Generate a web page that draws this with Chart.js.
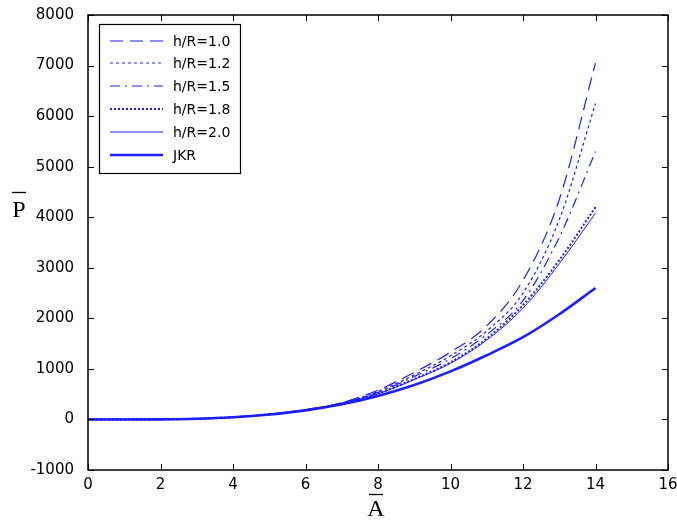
<!DOCTYPE html>
<html>
<head>
<meta charset="utf-8">
<script src="https://cdn.jsdelivr.net/npm/chart.js@4"></script>
<style>
  html, body { margin: 0; padding: 0; background: #fff; }
  #wrap { width: 677px; height: 525px; }
</style>
</head>
<body>
<div id="wrap"><canvas id="PlotCanvas" width="677" height="525"></canvas></div>
<script>
// values
var A = [0, 1, 2, 3, 4, 5, 6, 7, 8, 9, 10, 11, 12, 13, 14];
var hR10 = [0, 0, 2, 14, 46, 103, 192, 330, 580, 930, 1330, 1850, 2750, 4350, 7050];
var hR12 = [0, 0, 2, 14, 45, 102, 190, 326, 555, 880, 1260, 1750, 2500, 3950, 6250];
var hR15 = [0, 0, 2, 14, 45, 101, 188, 322, 535, 850, 1200, 1680, 2350, 3600, 5300];
var hR18 = [0, 0, 2, 14, 45, 100, 186, 318, 515, 800, 1130, 1600, 2260, 3150, 4200];
var hR20 = [0, 0, 2, 14, 45, 100, 185, 315, 505, 790, 1110, 1570, 2200, 3080, 4080];
var JKR = [0, 0, 2, 14, 44, 98, 180, 300, 465, 680, 950, 1270, 1626, 2080, 2600];
var SeriesNames = ['h/R=1.0', 'h/R=1.2', 'h/R=1.5', 'h/R=1.8', 'h/R=2.0', 'JKR'];
var xTicks = [0, 2, 4, 6, 8, 10, 12, 14, 16];
var yTicks = [-1000, 0, 1000, 2000, 3000, 4000, 5000, 6000, 7000, 8000];

var LineBlue = 'rgb(30, 30, 255)';
var TickFont = { family: '"DejaVu Sans", Arial, sans-serif', size: 15 };

function toPoints(arr) {
    return A.map(function (a, i) { return { x: a, y: arr[i] }; });
}

function MakeSet(name, arr, width, dash) {
    return {
        label: name,
        data: toPoints(arr),
        borderColor: LineBlue,
        borderWidth: width,
        borderDash: dash,
        pointRadius: 0,
        fill: false,
        cubicInterpolationMode: 'monotone'
    };
}

// frame, inward ticks, legend box and axis letters like the MATLAB figure
var FramePlugin = {
    id: 'framePlugin',
    afterDatasetsDraw: function (chart) {
        var ctx = chart.ctx;
        var ca = chart.chartArea;
        var xs = chart.scales.x, ys = chart.scales.y;
        ctx.save();
        ctx.strokeStyle = '#000';
        ctx.lineWidth = 1.5;
        ctx.setLineDash([]);
        ctx.strokeRect(ca.left, ca.top, ca.right - ca.left, ca.bottom - ca.top);
        ctx.lineWidth = 1;
        xTicks.forEach(function (t) {
            var px = Math.round(xs.getPixelForValue(t)) + 0.5;
            ctx.beginPath();
            ctx.moveTo(px, ca.bottom); ctx.lineTo(px, ca.bottom - 6);
            ctx.moveTo(px, ca.top); ctx.lineTo(px, ca.top + 6);
            ctx.stroke();
        });
        yTicks.forEach(function (t) {
            var py = Math.round(ys.getPixelForValue(t)) + 0.5;
            ctx.beginPath();
            ctx.moveTo(ca.left, py); ctx.lineTo(ca.left + 6, py);
            ctx.moveTo(ca.right, py); ctx.lineTo(ca.right - 6, py);
            ctx.stroke();
        });

        // legend
        var bx = 99, by = 24, bw = 141, bh = 149;
        ctx.fillStyle = '#fff';
        ctx.fillRect(bx, by, bw, bh);
        ctx.lineWidth = 1.2;
        ctx.strokeStyle = '#000';
        ctx.strokeRect(bx + 0.5, by + 0.5, bw, bh);
        var rowY = [41, 63, 86, 109, 132, 155];
        chart.data.datasets.forEach(function (ds, i) {
            ctx.beginPath();
            ctx.strokeStyle = ds.borderColor;
            ctx.lineWidth = ds.borderWidth;
            ctx.setLineDash(ds.borderDash || []);
            ctx.moveTo(110, rowY[i]);
            ctx.lineTo(163, rowY[i]);
            ctx.stroke();
            ctx.setLineDash([]);
            ctx.fillStyle = '#000';
            ctx.font = '14px "DejaVu Sans", Arial, sans-serif';
            ctx.textBaseline = 'middle';
            ctx.textAlign = 'left';
            ctx.fillText(ds.label, 173, rowY[i] + 1);
        });

        // axis letters with bars on top
        ctx.fillStyle = '#000';
        ctx.strokeStyle = '#000';
        ctx.lineWidth = 1.3;
        ctx.font = '24px "Liberation Serif", "Times New Roman", serif';
        ctx.textAlign = 'center';
        ctx.textBaseline = 'alphabetic';
        ctx.fillText('P', 19, 217);
        ctx.beginPath(); ctx.moveTo(12, 192.5); ctx.lineTo(26, 192.5); ctx.stroke();
        ctx.fillText('A', 376, 516);
        ctx.beginPath(); ctx.moveTo(369, 494.5); ctx.lineTo(383, 494.5); ctx.stroke();
        ctx.restore();
    }
};

var ctx = document.getElementById('PlotCanvas').getContext('2d');
window.MyPlot = new Chart(ctx, {
    type: 'line',
    data: {
        datasets: [
            MakeSet(SeriesNames[0], hR10, 1.2, [13, 7]),
            MakeSet(SeriesNames[1], hR12, 1.2, [3, 3]),
            MakeSet(SeriesNames[2], hR15, 1.2, [10, 5, 2, 5]),
            MakeSet(SeriesNames[3], hR18, 2, [2, 2]),
            MakeSet(SeriesNames[4], hR20, 1, []),
            MakeSet(SeriesNames[5], JKR, 2.6, [])
        ]
    },
    options: {
        responsive: false,
        animation: false,
        layout: { padding: { top: 14, right: 9, left: 0, bottom: 0 } },
        plugins: {
            legend: { display: false },
            tooltip: { enabled: false }
        },
        scales: {
            x: {
                type: 'linear',
                min: 0, max: 16,
                afterBuildTicks: function (scale) {
                    scale.ticks = xTicks.map(function (v) { return { value: v }; });
                },
                afterFit: function (scale) { scale.height = 55; },
                grid: { display: false },
                border: { display: false },
                ticks: {
                    color: '#000',
                    padding: -2,
                    maxRotation: 0,
                    font: TickFont,
                    callback: function (v) { return String(v); }
                }
            },
            y: {
                type: 'linear',
                min: -1000, max: 8000,
                afterBuildTicks: function (scale) {
                    scale.ticks = yTicks.map(function (v) { return { value: v }; });
                },
                afterFit: function (scale) { scale.width = 88; },
                grid: { display: false },
                border: { display: false },
                ticks: {
                    color: '#000',
                    padding: 6,
                    font: TickFont,
                    callback: function (v) { return String(v); }
                }
            }
        }
    },
    plugins: [FramePlugin]
});
</script>
</body>
</html>
